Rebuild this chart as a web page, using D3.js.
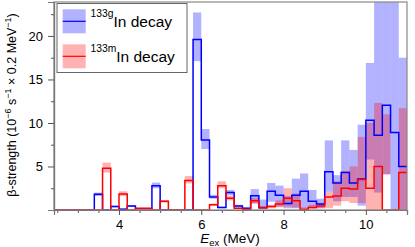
<!DOCTYPE html>
<html>
<head>
<meta charset="utf-8">
<script src="https://cdn.jsdelivr.net/npm/d3@7"></script>
<style>
  html, body { margin: 0; padding: 0; background: #fff; }
  svg { display: block; font-family: "Liberation Sans", Arial, sans-serif; }
</style>
</head>
<body>
<div id="chart"></div>
<script>
const width = 415;
const height = 247;

// lower edges of the 0.2 MeV bins (MeV)
const binLow = [3.4, 3.6, 3.8, 4.0, 4.2, 4.4, 4.6, 4.8, 5.0, 5.2, 5.4, 5.6, 5.8, 6.0, 6.2, 6.4, 6.6, 6.8, 7.0,
  7.2, 7.4, 7.6, 7.8, 8.0, 8.2, 8.4, 8.6, 8.8, 9.0, 9.2, 9.4, 9.6, 9.8, 10.0, 10.2, 10.4, 10.6, 10.8];
const binWidth = 0.2;

// 133gIn decay
const gValue = [1.8, 0, 0.4, 0.1, 0.45, 0.15, 0.15, 2.8, 0, 0, 0, 0, 19.6, 8.05, 1.5, 0.3, 2.0, 0.45, 0.2,
  1.65, 0.3, 2.15, 1.7, 0.75, 1.7, 2.15, 1.0, 0.7, 4.4, 3.1, 4.3, 3.1, 3.55, 10.3, 8.6, 12.05, 8.9, 5.0];
const gLow = [1.6, 0, 0.3, 0, 0.35, 0.1, 0.1, 2.5, 0, 0, 0, 0, 17.1, 7.0, 1.3, 0.2, 1.7, 0.35, 0.1,
  0.8, 0.1, 0.95, 0.4, 0.2, 0.2, 0.2, 0.3, 0.2, 2.1, 1.0, 1.5, 1.5, 0.5, 5.8, 2.0, 4.1, 0, 0];
const gHigh = [2.0, 0, 0.5, 0.2, 0.55, 0.2, 0.2, 3.15, 0, 0, 0, 0, 22.7, 9.3, 1.75, 0.4, 2.3, 0.6, 0.3,
  2.4, 1.2, 3.1, 2.8, 1.6, 3.6, 4.2, 2.3, 1.3, 8.0, 4.0, 8.0, 6.9, 9.8, 16.9, 30, 30, 30, 17.5];

// 133mIn decay
const mValue = [0, 4.8, 0, 1.85, 0, 0.2, 0.2, 0, 1.0, 0, 0, 3.4, 0, 0, 0.6, 2.8, 1.35, 0.2, 0.1,
  1.05, 0.25, 0.4, 0.7, 1.35, 1.05, 0.1, 0.3, 0.45, 1.5, 1.6, 2.5, 2.4, 3.5, 2.5, 5.0, 0, 0, 4.3];
const mLow = [0, 4.3, 0, 1.6, 0, 0.15, 0.15, 0, 0.85, 0, 0, 3.05, 0, 0, 0.5, 2.5, 1.1, 0.1, 0,
  0.7, 0.1, 0.2, 0.3, 0.4, 0.3, 0, 0.1, 0.2, 0.2, 0.5, 1.0, 0.8, 0.8, 0, 0, 4.1, 0, 0];
const mHigh = [0, 5.45, 0, 2.15, 0, 0.25, 0.25, 0, 1.15, 0, 0, 3.9, 0, 0, 0.75, 3.3, 1.65, 0.3, 0.2,
  1.4, 0.4, 0.6, 1.1, 2.5, 1.9, 0.3, 0.6, 0.8, 2.1, 3.3, 4.5, 5.0, 8.4, 10.0, 12.3, 11.0, 0, 11.7];

const xTicks = [4, 6, 8, 10];
const yTicks = [5, 10, 15, 20];

const margin = { top: 2, right: 8, bottom: 37, left: 54 };

const x = d3.scaleLinear().domain([2.42, 11.0]).range([margin.left, width - margin.right]);
const y = d3.scaleLinear().domain([0, 23.9]).range([height - margin.bottom, margin.top]);

const svg = d3.select("#chart").append("svg")
  .attr("width", width)
  .attr("height", height);

svg.append("clipPath").attr("id", "clip")
  .append("rect")
  .attr("x", margin.left).attr("y", margin.top)
  .attr("width", x.range()[1] - margin.left)
  .attr("height", y.range()[0] - margin.top);

const plot = svg.append("g").attr("clip-path", "url(#clip)");

// error bands
function bands(lo, hi, color) {
  plot.append("g").selectAll("rect")
    .data(binLow.map((e, i) => ({ e, lo: lo[i], hi: hi[i] })).filter(d => d.hi > d.lo))
    .join("rect")
    .attr("x", d => x(d.e))
    .attr("width", d => x(d.e + binWidth) - x(d.e))
    .attr("y", d => y(d.hi))
    .attr("height", d => y(d.lo) - y(d.hi))
    .attr("fill", color)
    .attr("fill-opacity", 0.3);
}
bands(gLow, gHigh, "#0000ff");
bands(mLow, mHigh, "#ff0000");

// histogram steps
const step = d3.line().x(d => x(d[0])).y(d => y(d[1])).curve(d3.curveStepAfter);
function steps(vals, color) {
  const pts = [[x.domain()[0], 0]].concat(binLow.map((e, i) => [e, vals[i]]));
  pts.push([x.domain()[1], vals[vals.length - 1]]);
  plot.append("path")
    .attr("d", step(pts))
    .attr("fill", "none")
    .attr("stroke", color)
    .attr("stroke-width", 1.5);
}
steps(gValue, "#0000ff");
steps(mValue, "#ff0000");

// frame
svg.append("rect")
  .attr("x", margin.left).attr("y", margin.top)
  .attr("width", x.range()[1] - margin.left)
  .attr("height", y.range()[0] - margin.top)
  .attr("fill", "none")
  .attr("stroke", "#888")
  .attr("stroke-width", 1.2);

// axes
const xAxis = d3.axisBottom(x).tickValues(xTicks).tickSize(5).tickPadding(5).tickFormat(d3.format("d"));
const xMinor = d3.axisBottom(x).tickValues(d3.range(2.5, 11.01, 0.5).filter(v => v % 2 !== 0)).tickSize(3).tickFormat("");
const yAxis = d3.axisLeft(y).tickValues(yTicks).tickSize(6).tickPadding(5);
const yMinor = d3.axisLeft(y).tickValues([2.5, 7.5, 12.5, 17.5, 22.5]).tickSize(3).tickFormat("");

function styleAxis(g) {
  g.select(".domain").attr("stroke", "#777").attr("stroke-width", 1.2);
  g.selectAll(".tick line").attr("stroke", "#555");
  g.selectAll(".tick text").attr("font-size", 13).attr("fill", "#000")
    .attr("font-family", "Liberation Sans, Arial, sans-serif");
}
svg.append("g").attr("transform", `translate(0,${y.range()[0]})`).call(xMinor).call(styleAxis);
svg.append("g").attr("transform", `translate(0,${y.range()[0]})`).call(xAxis).call(styleAxis);
svg.append("g").attr("transform", `translate(${margin.left},0)`).call(yMinor).call(styleAxis);
svg.append("g").attr("transform", `translate(${margin.left},0)`).call(yAxis).call(styleAxis);

// axis titles
const xt = svg.append("text")
  .attr("x", 230).attr("y", 243)
  .attr("text-anchor", "middle")
  .attr("font-size", 13.5);
xt.append("tspan").attr("font-style", "italic").text("E");
xt.append("tspan").attr("font-size", 9.5).attr("dy", 3).text("ex");
xt.append("tspan").attr("dy", -3).text(" (MeV)");

const yt = svg.append("text")
  .attr("transform", "translate(16,105) rotate(-90)")
  .attr("text-anchor", "middle")
  .attr("font-size", 12.5);
yt.append("tspan").text("β-strength (10");
yt.append("tspan").attr("font-size", 9).attr("dy", -5).text("−6");
yt.append("tspan").attr("dy", 5).text(" s");
yt.append("tspan").attr("font-size", 9).attr("dy", -5).text("−1");
yt.append("tspan").attr("dy", 5).text(" × 0.2 MeV");
yt.append("tspan").attr("font-size", 9).attr("dy", -5).text("−1");
yt.append("tspan").attr("dy", 5).text(")");

// legend
const legend = svg.append("g");
legend.append("rect")
  .attr("x", 57).attr("y", 3.5).attr("width", 130).attr("height", 69)
  .attr("fill", "#fff").attr("stroke", "#666").attr("stroke-width", 1);

const legendItems = [
  { label: "133g", color: "#0000ff", y: 9.3, base: 26.7 },
  { label: "133m", color: "#ff0000", y: 44.3, base: 61.7 }
];
legendItems.forEach(d => {
  legend.append("rect")
    .attr("x", 62.7).attr("y", d.y).attr("width", 23).attr("height", 24)
    .attr("fill", d.color).attr("fill-opacity", 0.3);
  legend.append("line")
    .attr("x1", 62.7).attr("x2", 85.7)
    .attr("y1", d.y + 12).attr("y2", d.y + 12)
    .attr("stroke", d.color).attr("stroke-width", 1.2);
  const t = legend.append("text").attr("x", 90.5).attr("y", d.base).attr("font-size", 15.5);
  t.append("tspan").attr("font-size", 10.3).attr("dy", -10).text(d.label);
  t.append("tspan").attr("dy", 10).text("In decay");
});
</script>
</body>
</html>
